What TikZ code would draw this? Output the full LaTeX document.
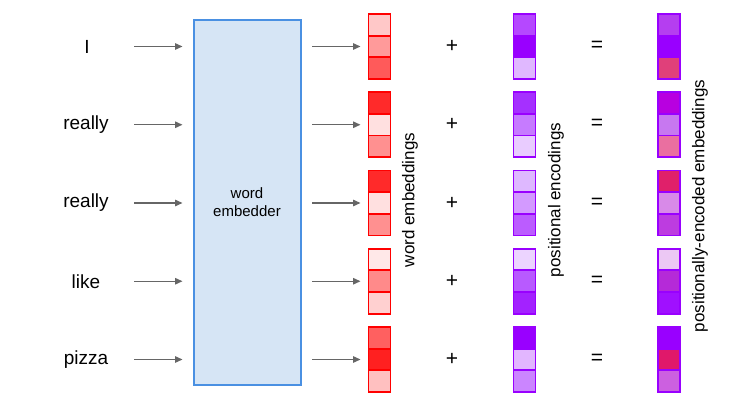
\documentclass[tikz,border=0pt]{standalone}
\usepackage{fontspec}
\setmainfont{Liberation Sans}
\usetikzlibrary{arrows.meta}
% red column
\definecolor{ra1}{HTML}{FFC8C8}\definecolor{ra2}{HTML}{FF9A9A}\definecolor{ra3}{HTML}{FF5A5A}
\definecolor{rb1}{HTML}{FF2A2A}\definecolor{rb2}{HTML}{FFE0E0}\definecolor{rb3}{HTML}{FF9090}
\definecolor{rc1}{HTML}{FF2A2A}\definecolor{rc2}{HTML}{FFE0E0}\definecolor{rc3}{HTML}{FF9090}
\definecolor{rd1}{HTML}{FFE8E8}\definecolor{rd2}{HTML}{FF8A8A}\definecolor{rd3}{HTML}{FFD0D0}
\definecolor{re1}{HTML}{FF6060}\definecolor{re2}{HTML}{FF2020}\definecolor{re3}{HTML}{FFC0C0}
% purple column
\definecolor{pa1}{HTML}{B548FF}\definecolor{pa2}{HTML}{9900FF}\definecolor{pa3}{HTML}{E0B8FF}
\definecolor{pb1}{HTML}{A530FF}\definecolor{pb2}{HTML}{C67BFF}\definecolor{pb3}{HTML}{E9CCFF}
\definecolor{pc1}{HTML}{DEB8FF}\definecolor{pc2}{HTML}{D39AFF}\definecolor{pc3}{HTML}{BB5CFF}
\definecolor{pd1}{HTML}{ECD4FF}\definecolor{pd2}{HTML}{B85AFF}\definecolor{pd3}{HTML}{A322FF}
\definecolor{pe1}{HTML}{9900FF}\definecolor{pe2}{HTML}{E2B6FF}\definecolor{pe3}{HTML}{CB85FF}
% result column
\definecolor{qa1}{HTML}{B53EF0}\definecolor{qa2}{HTML}{9900FF}\definecolor{qa3}{HTML}{E0407A}
\definecolor{qb1}{HTML}{B800E0}\definecolor{qb2}{HTML}{C778F0}\definecolor{qb3}{HTML}{EA6FA0}
\definecolor{qc1}{HTML}{E0206A}\definecolor{qc2}{HTML}{D88AE8}\definecolor{qc3}{HTML}{BD3CE0}
\definecolor{qd1}{HTML}{ECC8F4}\definecolor{qd2}{HTML}{B52AD8}\definecolor{qd3}{HTML}{A010FF}
\definecolor{qe1}{HTML}{9900FF}\definecolor{qe2}{HTML}{E0186A}\definecolor{qe3}{HTML}{CC60E0}
\definecolor{redb}{HTML}{FF0000}
\definecolor{purb}{HTML}{9900FF}
\definecolor{embfill}{HTML}{D6E5F5}
\definecolor{embdraw}{HTML}{4A90E2}
\definecolor{arrgray}{HTML}{666666}
\newcommand\mkstack[7]{%
  \node[cell=#4, fill=#5] (#1a) at (#2,#3-21.7) {};
  \node[cell=#4, fill=#6] (#1b) at (#2,#3) {};
  \node[cell=#4, fill=#7] (#1c) at (#2,#3+21.7) {};
}
\begin{document}
\begin{tikzpicture}[x=1pt,y=-1pt,
  wordlbl/.style={font=\fontsize{19}{21}\selectfont, anchor=center},
  cell/.style={draw=#1, line width=1.8pt, minimum width=22pt, minimum height=21.7pt, inner sep=0pt, outer sep=0pt},
  arr/.style={draw=arrgray, line width=1.4pt, -{Triangle[length=7.5pt,width=6.5pt]}, shorten >=11pt},
  op/.style={font=\fontsize{21}{23}\selectfont},
  lbl/.style={rotate=90, font=\fontsize{17}{19}\selectfont}]
\useasboundingbox (0,0) rectangle (756,419);
% embedder
\node[draw=embdraw, fill=embfill, line width=2pt, minimum width=107pt, minimum height=365pt, inner sep=0pt, outer sep=0pt,
  align=center, font=\fontsize{15}{18}\selectfont] (emb) at (247,202.5) {word\\embedder};
% words
\node[wordlbl] (t1) at (87,46.5) {I};
\node[wordlbl] (t2) at (86,124.75) {really};
\node[wordlbl] (t3) at (86,203) {really};
\node[wordlbl] (t4) at (86,281.25) {like};
\node[wordlbl] (t5) at (86,359.5) {pizza};
% stacks
\mkstack{wa}{379.5}{46.5}{redb}{ra1}{ra2}{ra3}
\mkstack{wb}{379.5}{124.75}{redb}{rb1}{rb2}{rb3}
\mkstack{wc}{379.5}{203}{redb}{rc1}{rc2}{rc3}
\mkstack{wd}{379.5}{281.25}{redb}{rd1}{rd2}{rd3}
\mkstack{we}{379.5}{359.5}{redb}{re1}{re2}{re3}
\mkstack{pa}{524.5}{46.5}{purb}{pa1}{pa2}{pa3}
\mkstack{pb}{524.5}{124.75}{purb}{pb1}{pb2}{pb3}
\mkstack{pc}{524.5}{203}{purb}{pc1}{pc2}{pc3}
\mkstack{pd}{524.5}{281.25}{purb}{pd1}{pd2}{pd3}
\mkstack{pe}{524.5}{359.5}{purb}{pe1}{pe2}{pe3}
\mkstack{qa}{669}{46.5}{purb}{qa1}{qa2}{qa3}
\mkstack{qb}{669}{124.75}{purb}{qb1}{qb2}{qb3}
\mkstack{qc}{669}{203}{purb}{qc1}{qc2}{qc3}
\mkstack{qd}{669}{281.25}{purb}{qd1}{qd2}{qd3}
\mkstack{qe}{669}{359.5}{purb}{qe1}{qe2}{qe3}
% operators
\foreach \n/\y in {a/46.5,b/124.75,c/203,d/281.25,e/359.5}{
  \node[op] (plus\n) at (452,\y) {+};
  \node[op] (eq\n) at (597,\y) {=};
}
% arrows
\foreach \i/\n/\y in {1/a/46.5,2/b/124.75,3/c/203,4/d/281.25,5/e/359.5}{
  \coordinate (ain\i) at (134,\y);
  \coordinate (aout\i) at (312,\y);
  \draw[arr] (ain\i) -- (emb.west |- ain\i);
  \draw[arr, shorten >=8pt] (aout\i) -- (w\n b.west);
}
% labels
\node[lbl] (lw) at (410,200) {word embeddings};
\node[lbl] (lp) at (556,200) {positional encodings};
\node[lbl] (lq) at (700,206) {positionally-encoded embeddings};
\end{tikzpicture}
\end{document}
